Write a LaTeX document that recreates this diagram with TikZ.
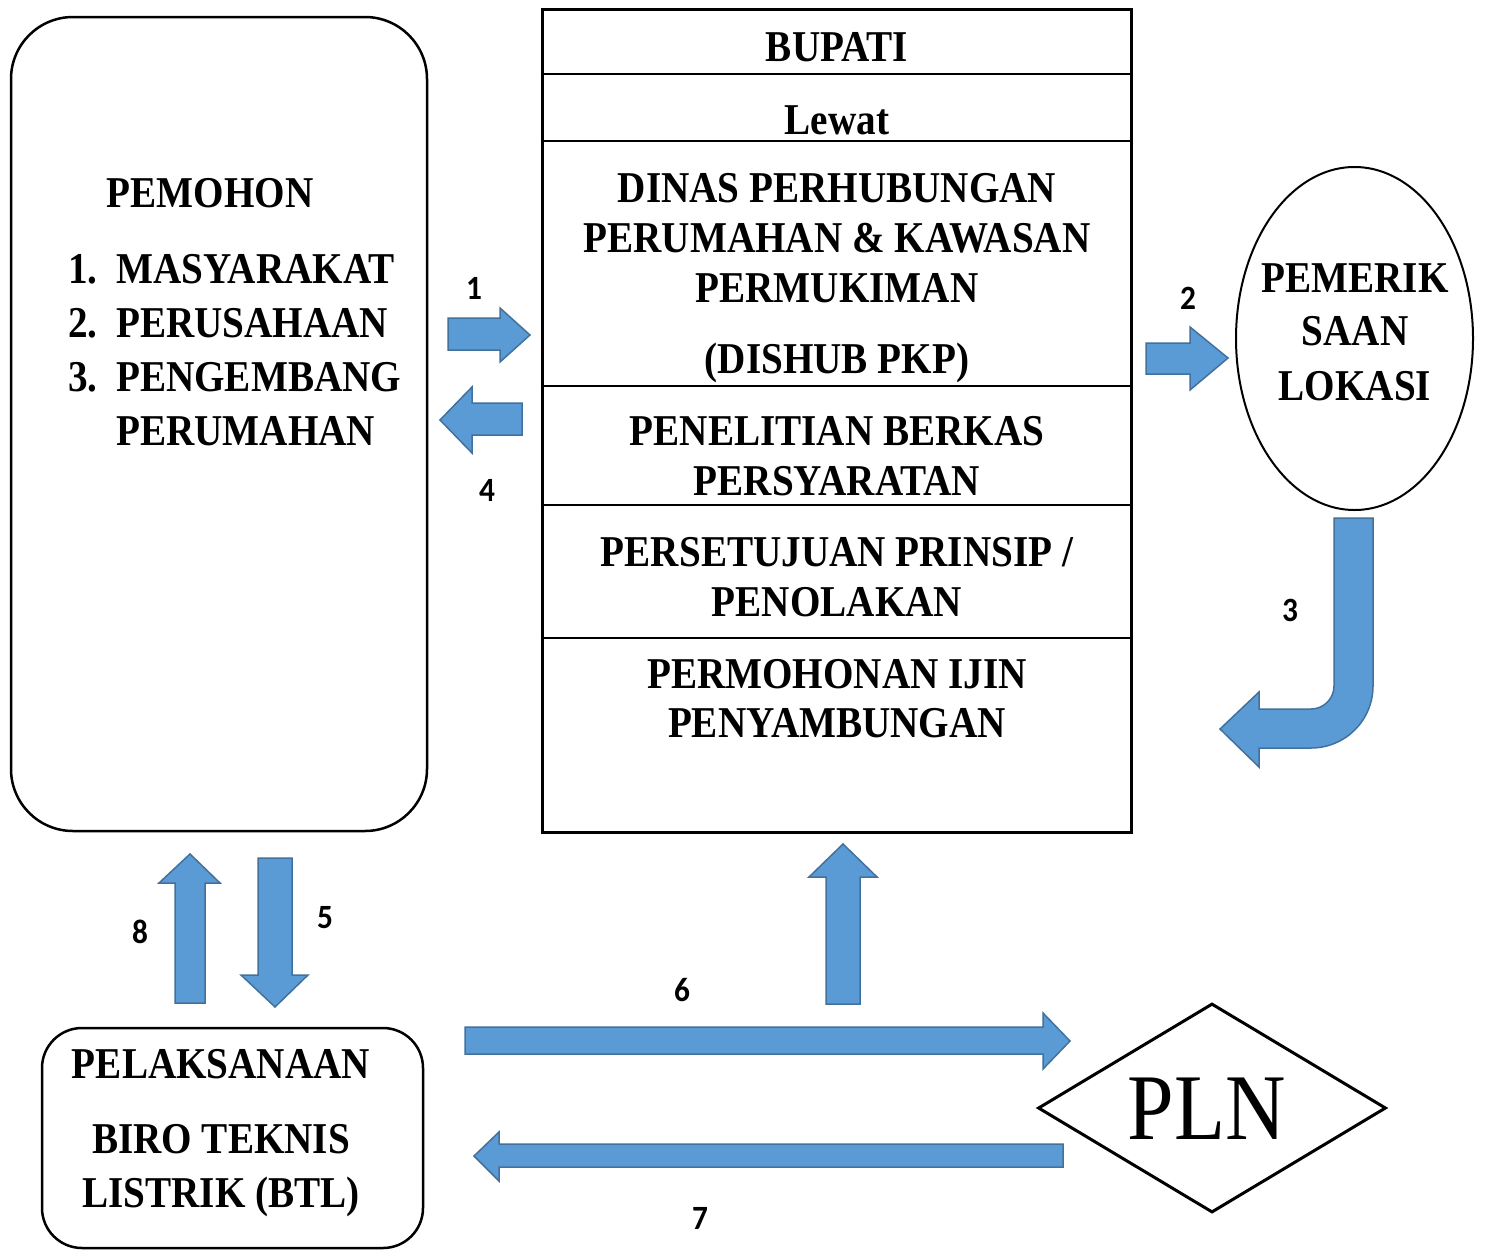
\documentclass[tikz,border=0pt]{standalone}
\usepackage{fontspec}
\setmainfont{Liberation Serif}
\newfontfamily\lblfont[FakeStretch=0.89]{Liberation Serif}
\newfontfamily\numfont[FakeStretch=0.92]{Carlito}
\usetikzlibrary{shapes.geometric}
\definecolor{arrowfill}{HTML}{5B9BD5}
\definecolor{arrowline}{HTML}{41719C}
\begin{document}
\begin{tikzpicture}[x=1pt,y=-1pt,
  lbl/.style={font=\lblfont\bfseries\fontsize{44}{54}\selectfont, inner sep=0pt},
  num/.style={font=\numfont\bfseries\fontsize{34}{40}\selectfont, inner sep=0pt},
  blk/.style={fill=arrowfill, draw=arrowline, line width=1.5pt, line join=miter},
  thin/.style={line width=1.2pt}]
\useasboundingbox (0,0) rectangle (1485,1250);
\fill[white] (0,0) rectangle (1485,1250);

% left rounded box
\node[draw, line width=2.5pt, rounded corners=62pt, minimum width=416pt, minimum height=814pt, inner sep=0pt] (pem) at (219,424) {};
\node[lbl, anchor=base] (pemt) at (210,207) {PEMOHON};
\node[lbl, anchor=base west] (k1) at (68,283) {1.};
\node[lbl, anchor=base west] (k2) at (68,337) {2.};
\node[lbl, anchor=base west] (k3) at (68,391) {3.};
\node[lbl, anchor=base west] (l1) at (116,283) {MASYARAKAT};
\node[lbl, anchor=base west] (l2) at (116,337) {PERUSAHAAN};
\node[lbl, anchor=base west] (l3) at (116,391) {PENGEMBANG};
\node[lbl, anchor=base west] (l4) at (116,445) {PERUMAHAN};

% main box
\node[draw, line width=3pt, minimum width=589pt, minimum height=823pt, inner sep=0pt] (main) at (836.5,420.5) {};
\foreach \yy in {74,141,386,505,638}
  \draw[thin] (main.west |- 0,\yy) -- (main.east |- 0,\yy);
\node[lbl, anchor=base] (bup) at (837,61) {BUPATI};
\node[lbl, anchor=base] (lew) at (837,134) {Lewat};
\node[lbl, anchor=base] (d1) at (837,202) {DINAS PERHUBUNGAN};
\node[lbl, anchor=base] (d2) at (837,252) {PERUMAHAN \& KAWASAN};
\node[lbl, anchor=base] (d3) at (837,302) {PERMUKIMAN};
\node[lbl, anchor=base] (d4) at (837,373) {(DISHUB PKP)};
\node[lbl, anchor=base] (p1) at (837,445) {PENELITIAN BERKAS};
\node[lbl, anchor=base] (p2) at (837,495) {PERSYARATAN};
\node[lbl, anchor=base] (s1) at (837,566) {PERSETUJUAN PRINSIP /};
\node[lbl, anchor=base] (s2) at (837,616) {PENOLAKAN};
\node[lbl, anchor=base] (m1) at (837,688) {PERMOHONAN IJIN};
\node[lbl, anchor=base] (m2) at (837,737) {PENYAMBUNGAN};

% ellipse
\node[draw, ellipse, line width=2pt, minimum width=237pt, minimum height=343pt, inner sep=0pt] (cek) at (1354.5,338.5) {};
\node[lbl, anchor=base] (c1) at (1355,292) {PEMERIK};
\node[lbl, anchor=base] (c2) at (1355,345) {SAAN};
\node[lbl, anchor=base] (c3) at (1355,400) {LOKASI};

% BTL box
\node[draw, line width=2.5pt, rounded corners=40pt, minimum width=381pt, minimum height=220pt, inner sep=0pt] (btl) at (232.5,1138) {};
\node[lbl, anchor=base] (b1) at (221,1078) {PELAKSANAAN};
\node[lbl, anchor=base] (b2) at (221,1153) {BIRO TEKNIS};
\node[lbl, anchor=base] (b3) at (221,1207) {LISTRIK (BTL)};

% PLN diamond
\node[draw, diamond, line width=3pt, minimum width=348pt, minimum height=209pt, inner sep=0pt] (pln) at (1212,1108) {};
\node[font=\lblfont\fontsize{94}{100}\selectfont, inner sep=0pt, anchor=base] (plnt) at (1207,1139) {PLN};

% block arrows
% 1 right
\draw[blk] (448,318) -- (500,318) -- (500,308) -- (530,335) -- (500,362) -- (500,350) -- (448,350) -- cycle;
% 4 left
\draw[blk] (522,403) -- (472,403) -- (472,387) -- (440,420) -- (472,453) -- (472,435) -- (522,435) -- cycle;
% 2 right
\draw[blk] (1146,343) -- (1190,343) -- (1190,327) -- (1228,358) -- (1190,390) -- (1190,374) -- (1146,374) -- cycle;
% 3 bent
\draw[blk] (1334,518) -- (1373,518) -- (1373,686) arc[start angle=0, end angle=90, radius=62] -- (1259,748) -- (1259,767) -- (1220,729) -- (1259,692) -- (1259,709) -- (1311,709) arc[start angle=90, end angle=0, radius=23] -- cycle;
% 8 up
\draw[blk] (175,1003) -- (175,883) -- (159,883) -- (190,854) -- (220,883) -- (205,883) -- (205,1003) -- cycle;
% 5 down
\draw[blk] (258,858) -- (292,858) -- (292,975) -- (308,975) -- (275,1007) -- (241,975) -- (258,975) -- cycle;
% up to main
\draw[blk] (826,1004) -- (826,877) -- (809,877) -- (843,844) -- (877,877) -- (860,877) -- (860,1004) -- cycle;
% 6 right
\draw[blk] (465,1027) -- (1043,1027) -- (1043,1013) -- (1070,1041) -- (1043,1069) -- (1043,1054) -- (465,1054) -- cycle;
% 7 left
\draw[blk] (1063,1144) -- (499,1144) -- (499,1132) -- (474,1156) -- (499,1181) -- (499,1167) -- (1063,1167) -- cycle;

% numbers
\node[num] (n1) at (474,288) {1};
\node[num] (n4) at (487,490) {4};
\node[num] (n2) at (1188,298) {2};
\node[num] (n3) at (1290,610) {3};
\node[num] (n8) at (140,932) {8};
\node[num] (n5) at (325,918) {5};
\node[num] (n6) at (682,990) {6};
\node[num] (n7) at (700,1218) {7};
\end{tikzpicture}
\end{document}
